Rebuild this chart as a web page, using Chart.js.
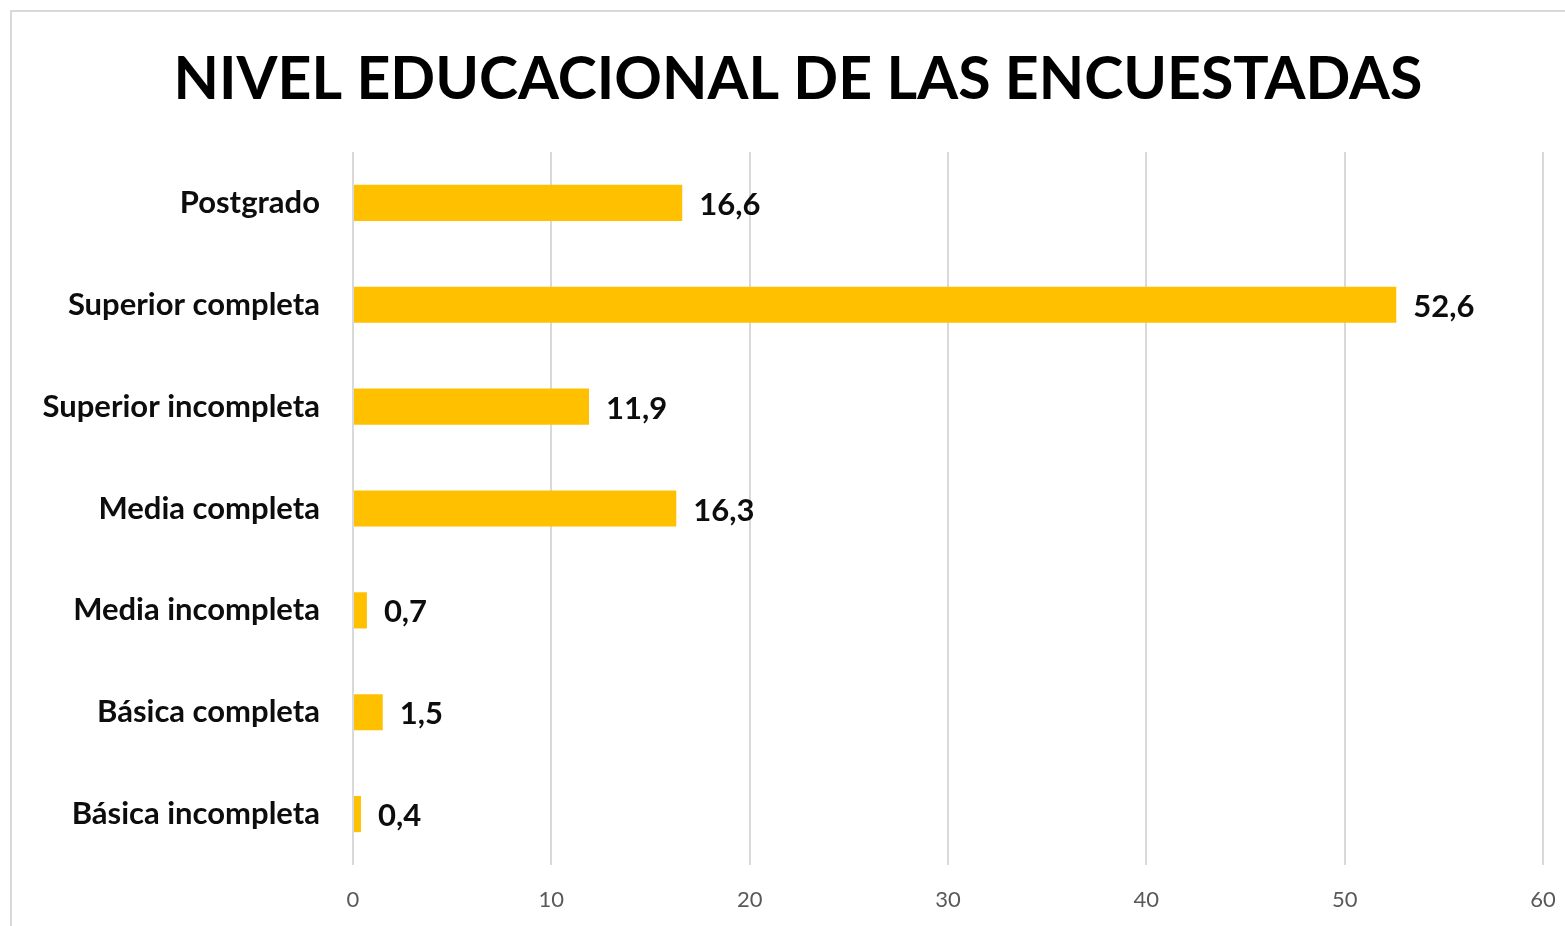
<!DOCTYPE html>
<html>
<head>
<meta charset="utf-8">
<script src="https://cdn.jsdelivr.net/npm/chart.js@4"></script>
<style>
  html, body { margin: 0; padding: 0; background: #fff; overflow: hidden; }
  #wrap { position: relative; width: 1565px; height: 926px; }
  #frame { position: absolute; left: 10px; top: 10px; width: 1600px; height: 1000px;
           border: 2px solid #d9d9d9; pointer-events: none; }
</style>
</head>
<body>
<div id="wrap">
  <canvas id="myChart" width="1565" height="926"></canvas>
  <div id="frame"></div>
</div>
<script>
// niveles educativos, de arriba hacia abajo
const categories = ['Postgrado', 'Superior completa', 'Superior incompleta', 'Media completa',
                    'Media incompleta', 'Básica completa', 'Básica incompleta']
const percentages = [16.6, 52.6, 11.9, 16.3, 0.7, 1.5, 0.4]
const xTicks = [0, 10, 20, 30, 40, 50, 60]
const chartTitle = 'NIVEL EDUCACIONAL DE LAS ENCUESTADAS'

const FONT = 'Lato, "Open Sans", sans-serif'
Chart.defaults.font.family = FONT

// titulo centrado sobre todo el grafico
const titlePlugin = {
    id: 'bigTitle',
    afterDraw(chart) {
        const ctx = chart.ctx
        ctx.save()
        ctx.font = 'bold 59px ' + FONT
        ctx.fillStyle = '#000'
        ctx.textAlign = 'center'
        ctx.textBaseline = 'alphabetic'
        ctx.fillText(chartTitle, 798, 99)
        ctx.restore()
    }
}

// etiquetas de valor a la derecha de cada barra
const valueLabels = {
    id: 'valueLabels',
    afterDatasetsDraw(chart) {
        const ctx = chart.ctx
        const meta = chart.getDatasetMeta(0)
        ctx.save()
        ctx.font = 'bold 31px ' + FONT
        ctx.fillStyle = '#0d0d0d'
        ctx.textAlign = 'left'
        ctx.textBaseline = 'middle'
        meta.data.forEach((bar, i) => {
            const txt = percentages[i].toFixed(1).replace('.', ',')
            ctx.fillText(txt, bar.x + 17, bar.y + 2)
        })
        ctx.restore()
    }
}

const ctx = document.getElementById('myChart')
const myChart = new Chart(ctx, {
    type: 'bar',
    data: {
        labels: categories,
        datasets: [{
            data: percentages,
            backgroundColor: '#ffc000',
            borderWidth: 0,
            categoryPercentage: 1,
            barPercentage: 0.355
        }]
    },
    options: {
        indexAxis: 'y',
        responsive: false,
        animation: false,
        layout: { padding: { left: 0, right: 22, top: 152, bottom: 0 } },
        plugins: {
            legend: { display: false },
            tooltip: { enabled: false },
            title: { display: false }
        },
        scales: {
            x: {
                min: 0,
                max: 60,
                afterBuildTicks(scale) {
                    scale.ticks = xTicks.map(v => ({ value: v }))
                },
                afterFit(scale) {
                    scale.height = 61
                    scale.paddingLeft = 0
                    scale.paddingRight = 0
                },
                grid: { color: '#d9d9d9', lineWidth: 2, drawTicks: false },
                border: { display: false },
                ticks: { color: '#595959', font: { size: 22 }, padding: 22 }
            },
            y: {
                afterFit(scale) {
                    scale.width = 353
                    scale.paddingTop = 0
                    scale.paddingBottom = 0
                },
                grid: { display: false },
                border: { display: false },
                ticks: { color: '#0d0d0d', font: { size: 31, weight: 'bold' }, padding: 25 }
            }
        }
    },
    plugins: [valueLabels, titlePlugin]
})
</script>
</body>
</html>
